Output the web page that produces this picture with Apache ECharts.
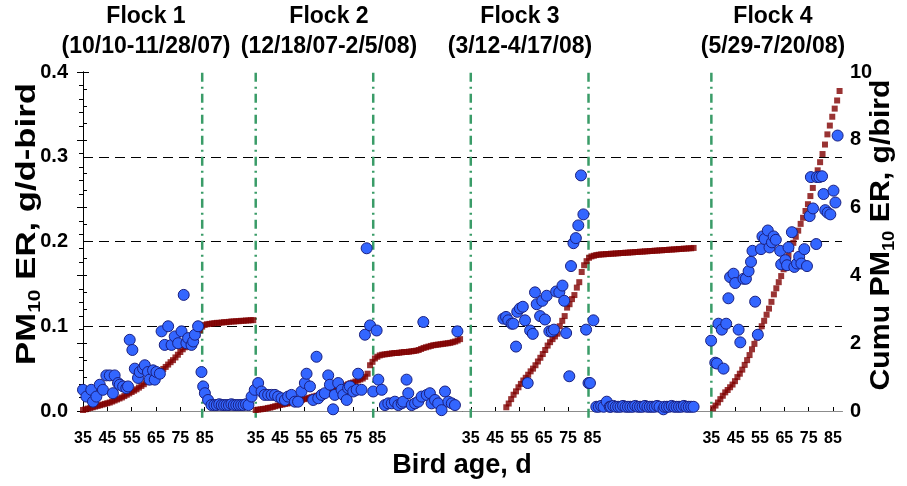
<!DOCTYPE html>
<html>
<head>
<meta charset="utf-8">
<script src="https://cdn.jsdelivr.net/npm/echarts@6/dist/echarts.min.js"></script>
<style>html,body{margin:0;padding:0;background:#fff}#c{width:907px;height:486px}</style>
</head>
<body>
<div id="c"></div>
<script>
// ---- tick labels / flock layout (study day axis, day 0 = flock 1 age 35) ----
const ages = [35, 45, 55, 65, 75, 85];
const flockStart = [0, 71, 159.4, 258.3];          // study day of age 35 for each flock
const flockMarks = [49, 71, 119.3, 159.4, 207.8, 258.3]; // green placement/removal lines
const flockNames = ['Flock 1', 'Flock 2', 'Flock 3', 'Flock 4'];
const flockDates = ['(10/10-11/28/07)', '(12/18/07-2/5/08)', '(3/12-4/17/08)', '(5/29-7/20/08)'];

// ---- daily PM10 ER (g/d-bird) ----
const f1Day = [0,1.4,3.4,4.1,5.5,6.9,8.2,9.6,11,12.3,13,14.4,15.1,16.5,17.8,18.5,19.2,20.3,21.3,22.6,23.3,24.7,25.4,26.7,27.4,28.8,29.5,30.2,31.6,32.3,33.6,35,36.4,37.7,39.1,40.5,41.4,42.5,43.2,44.6,45.3,46,47.3];
const f1ER  = [.025,.017,.025,.011,.017,.031,.025,.042,.042,.021,.042,.033,.031,.029,.027,.029,.084,.072,.05,.039,.046,.05,.054,.046,.037,.048,.037,.046,.044,.094,.078,.1,.078,.088,.08,.094,.137,.08,.086,.078,.082,.09,.1];
const d1Day = [48.7,49.4,50.1,51.4,52.8,54,55,56,57,58,59,60,61,62,63,64,65,66,67,68];
const d1ER  = [.046,.029,.021,.013,.007,.007,.007,.008,.007,.007,.007,.007,.008,.007,.007,.007,.007,.007,.008,.007];
const f2Day = [69.3,70.6,72,73.4,74.7,76.1,77.5,78.9,80.2,81.6,83,84.3,85.7,87.1,88.4,89.8,91.2,91.9,93.3,94.6,96,96.7,98.1,99.4,100.8,101.5,102.8,103.5,104.9,106.3,107,108.4,109,109.7,111.1,112.5,113.1,114.5,115.9,116.6,118,119.3,120.7,121.4,122.8];
const f2ER  = [.017,.025,.033,.023,.019,.019,.019,.019,.017,.015,.013,.017,.019,.011,.011,.023,.033,.044,.029,.013,.064,.015,.019,.021,.042,.031,.002,.019,.033,.025,.019,.013,.027,.029,.023,.025,.044,.025,.09,.192,.101,.023,.095,.037,.025];
const d2Day = [124.1,125.5,126.9,128.2,129.6,131,131.6,133,133.7,135.1,136.5,137.8,139.2,139.9,141.3,142.6,143.3,144.7,146,147.4,148.8,150.2,151.6,152.9,153.9];
const d2ER  = [.007,.009,.009,.011,.007,.009,.011,.037,.021,.007,.009,.011,.017,.105,.019,.021,.009,.013,.009,.001,.023,.011,.009,.007,.094];
const f3Day = [172.8,173.9,174.8,176.2,176.9,178,178.5,179.6,180.8,181.7,182.8,183.8,184.9,185.8,186.5,187.9,188.8,189.9,190.6,191.7,192.7,193.6,194.5,195.8,197.1,197.8,198.6,199.9,200.6,201.6,202.6,203.6,204.7,205.7,206.8,207.8,208.4,209.8];
const f3ER  = [.109,.111,.107,.103,.103,.076,.117,.121,.123,.107,.033,.095,.091,.14,.126,.112,.13,.108,.136,.094,.094,.096,.141,.14,.148,.13,.092,.041,.171,.198,.204,.219,.278,.232,.096,.033,.033,.107];
const d3Day = [211,212,213,214,215.3,216.5,217,218,219,220,221,222,223,224,225,226,227,228,229,230,231,232,233,234,235,236,237,238.6,239,240,241,242,243,244,245,246,247,248,249,250,251];
const d3ER  = [.005,.005,.006,.005,.011,.005,.005,.006,.005,.005,.005,.006,.005,.005,.005,.005,.006,.005,.005,.005,.006,.005,.005,.005,.005,.006,.005,.002,.005,.005,.005,.006,.005,.005,.005,.005,.006,.005,.005,.005,.005];
const f4Day = [258.2,259.9,260.6,261.2,262.6,263.3,264.4,265.3,266,267.4,268.1,269.5,270.2,271.5,272.5,273.6,274.6,275.2,276.3,277.4,278.7,279.3,280.2,281.5,282.2,283.2,283.9,284.8,286.6,287,288.7,289.4,290,291.4,292.4,293.5,294.4,295.3,296.5,297.6,298.7,299.2,300.1,301.4,301.7,302.7,303.8,304.4,305.1,306.1,307.2,308.5,309.3,310.2];
const f4ER  = [.083,.057,.056,.103,.096,.05,.103,.133,.158,.162,.151,.096,.081,.156,.156,.165,.176,.189,.129,.09,.191,.206,.203,.213,.193,.199,.206,.202,.189,.173,.178,.172,.193,.211,.17,.174,.182,.174,.191,.171,.23,.276,.239,.197,.276,.276,.277,.256,.237,.234,.232,.26,.246,.325];

// ---- cumulative PM10 ER (g/bird), one value per study day from the start day ----
const c1Start = 0;
const c1 = [0.03,0.05,0.07,0.09,0.11,0.13,0.15,0.17,0.19,0.21,0.23,0.25,0.28,0.31,0.34,0.37,0.40,0.44,0.48,0.52,0.56,0.60,0.64,0.69,0.74,0.79,0.85,0.91,0.97,1.03,1.08,1.13,1.18,1.24,1.30,1.37,1.44,1.50,1.58,1.66,1.74,1.82,1.88,1.95,2.01,2.07,2.14,2.25,2.38,2.49,2.54,2.56,2.57,2.58,2.59,2.60,2.60,2.61,2.62,2.62,2.63,2.64,2.64,2.65,2.65,2.66,2.66,2.67,2.67,2.68,2.68];
const c2Start = 71;
const c2 = [0.03,0.04,0.05,0.06,0.07,0.09,0.10,0.12,0.14,0.16,0.18,0.19,0.21,0.22,0.24,0.26,0.27,0.29,0.31,0.33,0.35,0.37,0.39,0.41,0.43,0.45,0.47,0.49,0.51,0.53,0.56,0.59,0.62,0.64,0.67,0.70,0.73,0.76,0.79,0.82,0.84,0.87,0.90,0.93,0.96,1.01,1.10,1.35,1.45,1.55,1.60,1.64,1.66,1.67,1.68,1.69,1.70,1.71,1.71,1.72,1.73,1.74,1.74,1.75,1.76,1.77,1.78,1.80,1.83,1.86,1.88,1.90,1.92,1.94,1.95,1.96,1.97,1.98,1.99,2.00,2.01,2.03,2.05,2.08,2.12];
const c3Start = 174;
const c3 = [0.11,0.22,0.35,0.48,0.58,0.70,0.80,0.90,0.98,1.07,1.17,1.25,1.35,1.46,1.57,1.68,1.80,1.93,2.03,2.12,2.20,2.28,2.50,2.66,2.80,3.05,3.15,3.30,3.42,3.64,3.80,4.10,4.30,4.42,4.52,4.56,4.58,4.60,4.61,4.62,4.62,4.63,4.63,4.64,4.64,4.65,4.65,4.66,4.66,4.67,4.67,4.68,4.68,4.69,4.69,4.70,4.70,4.71,4.71,4.72,4.72,4.73,4.73,4.74,4.74,4.75,4.75,4.76,4.76,4.77,4.77,4.78,4.78,4.79,4.79,4.80,4.80,4.81];
const c4Start = 259;
const c4 = [0.08,0.16,0.25,0.35,0.45,0.55,0.62,0.70,0.78,0.88,1.00,1.10,1.22,1.36,1.50,1.65,1.82,1.98,2.16,2.32,2.50,2.66,2.84,3.02,3.22,3.44,3.62,3.80,3.98,4.18,4.38,4.58,4.78,4.96,5.14,5.32,5.52,5.70,5.90,6.10,6.34,6.58,6.84,7.10,7.34,7.58,7.86,8.16,8.42,8.68,8.92,9.16,9.44];

// ---- build ----
const FONT = '"Liberation Sans", Arial, sans-serif';
const pair = (xs, ys) => xs.map((x, i) => [x, ys[i]]);
const erData = [].concat(pair(f1Day,f1ER), pair(d1Day,d1ER), pair(f2Day,f2ER), pair(d2Day,d2ER),
                         pair(f3Day,f3ER), pair(d3Day,d3ER), pair(f4Day,f4ER));
const cum = (start, vals) => vals.map((v, i) => [start + i, v]);
const cumData = [].concat(cum(c1Start,c1), cum(c2Start,c2), cum(c3Start,c3), cum(c4Start,c4));
const tickVals = [];
flockStart.forEach(s => ages.forEach(a => tickVals.push(s + a - 35)));
function ageOf(v) {
  let s = 0;
  for (const f of flockStart) if (f <= v + 0.01) s = f;
  return String(Math.round(v - s + 35));
}

const chart = echarts.init(document.getElementById('c'), null, {renderer: 'canvas'});
const titleCenters = [146, 329, 520, 773];
const graphics = [];
flockNames.forEach((n, i) => {
  graphics.push({type: 'text', x: titleCenters[i], y: 17, style: {text: n, font: 'bold 23px ' + FONT, fill: '#000', align: 'center', verticalAlign: 'middle'}});
  graphics.push({type: 'text', x: titleCenters[i], y: 47, style: {text: flockDates[i], font: 'bold 23px ' + FONT, fill: '#000', align: 'center', verticalAlign: 'middle'}});
});
const richName = {
  a: {fontSize: 28, fontWeight: 'bold', fontFamily: FONT, lineHeight: 34, verticalAlign: 'middle'},
  s: {fontSize: 17, fontWeight: 'bold', fontFamily: FONT, lineHeight: 16, verticalAlign: 'bottom'}
};
graphics.push({type: 'text', x: 27, y: 224, rotation: Math.PI / 2, scaleX: 1.24,
  style: {text: '{a|PM}{s|10}{a| ER, g/d-bird}', rich: richName, fill: '#000', align: 'center', verticalAlign: 'middle'}});
graphics.push({type: 'text', x: 881, y: 235, rotation: Math.PI / 2, scaleX: 1.08,
  style: {text: '{a|Cumu PM}{s|10}{a| ER, g/bird}', rich: richName, fill: '#000', align: 'center', verticalAlign: 'middle'}});
graphics.push({type: 'text', x: 462, y: 466,
  style: {text: 'Bird age, d', font: 'bold 27px ' + FONT, fill: '#000', align: 'center', verticalAlign: 'middle'}});

const markSeries = flockMarks.map(t => ({
  type: 'line', xAxisIndex: 0, yAxisIndex: 0, data: [[t, -0.008], [t, 0.4]],
  symbol: 'none', clip: false, silent: true, z: 1,
  lineStyle: {color: '#3a9c68', width: 2.5, type: [9, 5, 2, 5]}
}));

const option = {
  animation: false,
  backgroundColor: '#fff',
  grid: {left: 83, right: 65, top: 72, bottom: 75, containLabel: false},
  graphic: graphics,
  xAxis: [{
    type: 'value', min: 0, max: 312, position: 'bottom',
    axisLine: {lineStyle: {color: '#000', width: 1}},
    axisTick: {show: true, inside: true, length: 4, customValues: tickVals, lineStyle: {color: '#000'}},
    axisLabel: {customValues: tickVals, formatter: ageOf, margin: 20, color: '#000', fontSize: 16, fontWeight: 'bold', fontFamily: FONT},
    splitLine: {show: false}
  }, {
    type: 'value', min: 0, max: 312, position: 'top',
    axisLine: {lineStyle: {color: '#8c8c8c', width: 1}},
    axisTick: {show: false}, axisLabel: {show: false}, splitLine: {show: false}
  }],
  yAxis: [{
    type: 'value', min: 0, max: 0.4, interval: 0.1, position: 'left',
    axisLine: {show: true, lineStyle: {color: '#000', width: 1}},
    axisTick: {show: true, inside: true, length: 6, lineStyle: {color: '#000'}},
    minorTick: {show: true, splitNumber: 5, length: 4, lineStyle: {color: '#000'}},
    axisLabel: {formatter: v => v.toFixed(1), margin: 15, color: '#000', fontSize: 20, fontWeight: 'bold', fontFamily: FONT},
    splitLine: {show: true, lineStyle: {color: ['transparent', '#000', '#000', '#000', 'transparent'], type: [10, 6], width: 1}}
  }, {
    type: 'value', min: 0, max: 10, interval: 2, position: 'right',
    axisLine: {show: true, lineStyle: {color: '#000', width: 1}},
    axisTick: {show: true, inside: true, length: 6, lineStyle: {color: '#000'}},
    minorTick: {show: true, splitNumber: 5, length: 4, lineStyle: {color: '#000'}},
    axisLabel: {margin: 8, color: '#000', fontSize: 20, fontWeight: 'bold', fontFamily: FONT},
    splitLine: {show: false}
  }],
  series: markSeries.concat([{
    name: 'Cumu', type: 'scatter', yAxisIndex: 1, data: cumData, z: 3,
    symbol: 'rect', symbolSize: 6, itemStyle: {color: '#800000'}
  }, {
    name: 'ER', type: 'scatter', yAxisIndex: 0, data: erData, z: 4,
    symbol: 'circle', symbolSize: 11,
    itemStyle: {color: '#3366ff', borderColor: '#1a2080', borderWidth: 1, opacity: 1}
  }])
};
chart.setOption(option);
</script>
</body>
</html>
